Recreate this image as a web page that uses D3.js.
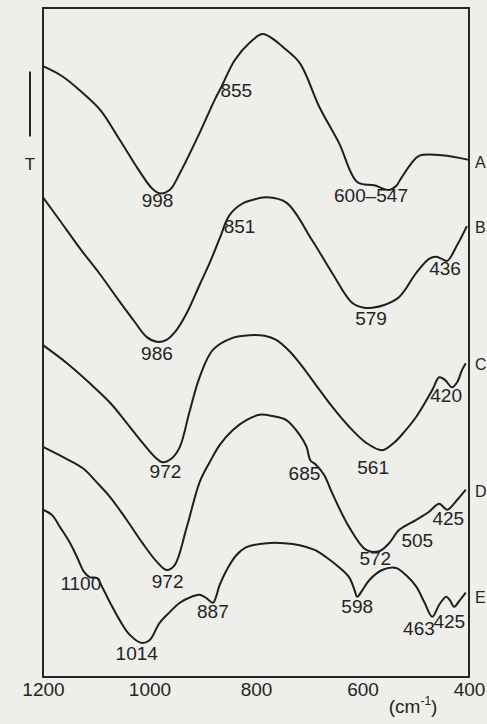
<!DOCTYPE html>
<html>
<head>
<meta charset="utf-8">
<script src="https://cdn.jsdelivr.net/npm/d3@7/dist/d3.min.js"></script>
<style>
  html, body { margin: 0; padding: 0; background: #eeeeeb; }
  svg { display: block; }
  text { font-family: "Liberation Sans", Arial, sans-serif; fill: #242424; }
</style>
</head>
<body>
<div id="chart"></div>
<script>
// IR spectra, wavenumber (cm-1) vs transmittance (arbitrary units, 0-100 over the plot height)
const xTicks = [1200, 1000, 800, 600, 400]
const seriesNames = ['A', 'B', 'C', 'D', 'E']

const curveA = [
  [1200, 91.3], [1164, 89.8], [1131, 87.7], [1093, 84.8], [1056, 80.3], [1018, 75.5],
  [996, 73.1], [981, 72.3], [962, 72.8], [943, 75.3], [906, 81.3], [878, 86.2],
  [865, 88.2], [840, 92.2], [812, 94.8], [788, 96.1], [765, 95.2], [750, 94.2],
  [718, 91.8], [681, 85.2], [644, 79.8], [610, 74.0], [578, 73.5], [550, 72.8],
  [537, 73.4], [527, 74.6], [509, 76.7], [494, 77.9], [451, 78.0], [400, 77.3]
]
const curveB = [
  [1200, 71.7], [1168, 68.2], [1131, 64.1], [1093, 60.2], [1056, 56.1], [1028, 53.1],
  [1005, 50.8], [986, 50.1], [968, 50.4], [949, 51.9], [930, 54.4], [906, 58.6],
  [887, 61.9], [868, 65.6], [850, 69.0], [827, 70.7], [807, 71.3], [780, 71.7],
  [743, 70.9], [694, 65.2], [657, 60.4], [619, 55.9], [597, 55.2], [582, 55.2],
  [559, 55.6], [531, 56.8], [499, 60.4], [475, 62.5], [462, 62.8], [451, 62.5],
  [441, 62.2], [422, 64.6], [404, 67.4]
]
const curveC = [
  [1200, 49.6], [1155, 46.9], [1112, 43.9], [1074, 41.0], [1043, 38.0], [1013, 35.0],
  [990, 32.9], [975, 32.1], [958, 32.7], [943, 34.4], [925, 39.6], [906, 44.8],
  [881, 48.9], [844, 50.7], [812, 51.1], [784, 51.0], [762, 50.4], [737, 48.7],
  [718, 46.9], [687, 43.6], [657, 40.4], [625, 37.4], [593, 35.0], [563, 33.9],
  [541, 35.0], [522, 36.6], [499, 38.9], [469, 42.9], [456, 44.8], [445, 44.4],
  [432, 43.3], [422, 44.1], [413, 45.9], [406, 46.9]
]
const curveD = [
  [1200, 34.4], [1163, 32.9], [1125, 31.2], [1099, 29.1], [1074, 26.9], [1043, 23.5],
  [1013, 20.0], [986, 17.2], [968, 16.0], [953, 16.7], [930, 22.4], [906, 29.1],
  [887, 32.1], [868, 34.7], [844, 36.9], [818, 38.4], [793, 39.2], [769, 39.0],
  [743, 38.4], [718, 36.2], [705, 34.4], [698, 32.4], [687, 31.7], [672, 30.2],
  [657, 27.5], [625, 22.4], [593, 19.0], [569, 18.8], [550, 20.0], [531, 22.0],
  [499, 23.5], [475, 24.7], [456, 25.9], [441, 25.0], [422, 26.5], [406, 28.0]
]
const curveE = [
  [1200, 25.0], [1183, 24.2], [1168, 22.4], [1149, 20.0], [1136, 17.9], [1123, 15.7],
  [1112, 14.9], [1099, 14.8], [1088, 13.3], [1074, 11.1], [1056, 8.5], [1037, 6.3],
  [1015, 5.1], [1000, 5.5], [981, 8.1], [962, 9.7], [943, 11.1], [921, 12.0],
  [906, 12.3], [893, 11.8], [881, 11.1], [868, 13.8], [855, 16.0], [837, 18.2],
  [818, 19.4], [780, 20.0], [747, 20.0], [718, 19.7], [690, 19.0], [668, 17.9],
  [644, 16.4], [625, 14.9], [615, 13.0], [610, 12.0], [600, 13.0], [587, 14.5],
  [563, 16.0], [537, 16.3], [518, 15.2], [499, 13.5], [484, 11.2], [469, 9.0],
  [456, 10.8], [443, 12.0], [436, 11.5], [428, 10.5], [417, 11.5], [406, 12.6]
]
const curves = [curveA, curveB, curveC, curveD, curveE]

// level of the letter next to each curve at the right edge
const seriesLabelT = [77.3, 67.6, 47.1, 28.1, 12.3]

// peak annotations: text, wavenumber, transmittance (baseline of the text)
const peakLabels = [
  ['998', 985, 70.3], ['855', 837, 86.7], ['600\u2013547', 584, 71.0],
  ['851', 831, 66.4], ['986', 986, 47.4], ['579', 584, 52.6], ['436', 445, 60.1],
  ['972', 970, 29.7], ['561', 580, 30.3], ['420', 443, 41.1],
  ['685', 709, 29.4], ['972', 966, 13.3], ['572', 576, 16.7], ['505', 497, 19.4], ['425', 439, 22.7],
  ['1100', 1129, 13.0], ['887', 881, 8.8], ['1014', 1024, 2.5], ['598', 610, 9.6],
  ['463', 494, 6.3], ['425', 437, 7.3]
]

const W = 487
const H = 724
const margin = { left: 43, right: 18, top: 8, bottom: 47 }

const svg = d3.select('#chart')
  .append('svg')
  .attr('width', W)
  .attr('height', H)

const x = d3.scaleLinear()
  .domain([1200, 400])
  .range([margin.left, W - margin.right])
const y = d3.scaleLinear()
  .domain([0, 100])
  .range([H - margin.bottom, margin.top])

// frame
svg.append('rect')
  .attr('x', x(1200))
  .attr('y', y(100))
  .attr('width', x(400) - x(1200))
  .attr('height', y(0) - y(100))
  .attr('fill', 'none')
  .attr('stroke', '#262626')
  .attr('stroke-width', 2)

const line = d3.line()
  .x(d => x(d[0]))
  .y(d => y(d[1]))
  .curve(d3.curveCatmullRom.alpha(0.5))

svg.append('g')
  .selectAll('path')
  .data(curves)
  .join('path')
  .attr('d', line)
  .attr('fill', 'none')
  .attr('stroke', '#1f1f1f')
  .attr('stroke-width', 2)
  .attr('stroke-linejoin', 'round')

svg.append('g')
  .selectAll('text')
  .data(peakLabels)
  .join('text')
  .attr('x', d => x(d[1]))
  .attr('y', d => y(d[2]))
  .attr('text-anchor', 'middle')
  .attr('font-size', 19)
  .text(d => d[0])

svg.append('g')
  .selectAll('text')
  .data(seriesNames)
  .join('text')
  .attr('x', x(400) + 6)
  .attr('y', (d, i) => y(seriesLabelT[i]) + 8)
  .attr('font-size', 16)
  .text(d => d)

// x axis: labels only, no tick marks
const axis = svg.append('g')
  .attr('transform', `translate(0, ${y(0)})`)
  .call(d3.axisBottom(x).tickValues(xTicks).tickSize(0).tickPadding(6).tickFormat(d3.format('d')))
axis.select('.domain').remove()
axis.selectAll('text')
  .attr('font-size', 19)
  .attr('font-family', '"Liberation Sans", Arial, sans-serif')
  .attr('fill', '#242424')

const unit = svg.append('text')
  .attr('x', x(505))
  .attr('y', H - 11)
  .attr('text-anchor', 'middle')
  .attr('font-size', 19)
unit.append('tspan').text('(cm')
unit.append('tspan').attr('dy', -8).attr('font-size', 12).text('-1')
unit.append('tspan').attr('dy', 8).text(')')

// transmittance scale bar and T
svg.append('line')
  .attr('x1', 30).attr('x2', 30)
  .attr('y1', y(90.5)).attr('y2', y(80.8))
  .attr('stroke', '#262626')
  .attr('stroke-width', 2)
svg.append('text')
  .attr('x', 30)
  .attr('y', y(75.8))
  .attr('text-anchor', 'middle')
  .attr('font-size', 17)
  .text('T')
</script>
</body>
</html>
